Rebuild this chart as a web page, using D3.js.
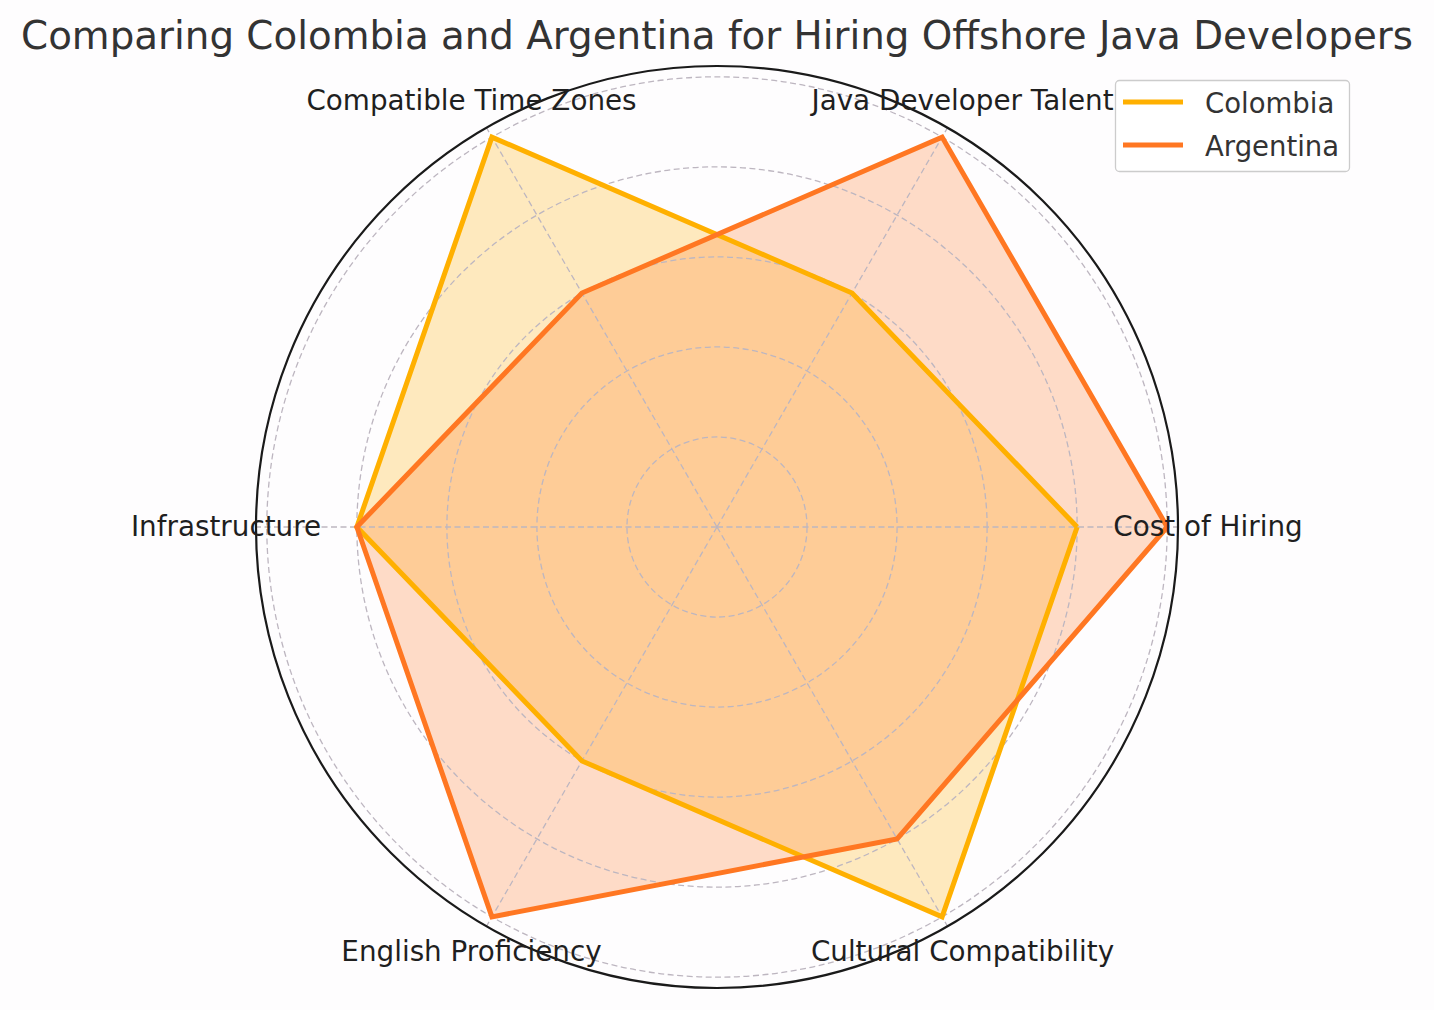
<!DOCTYPE html>
<html>
<head>
<meta charset="utf-8">
<script src="https://cdn.jsdelivr.net/npm/d3@7"></script>
<style>
html,body{margin:0;padding:0;background:#fefdfe;}
svg{display:block;}
text{font-family:"DejaVu Sans",sans-serif;}
</style>
</head>
<body>
<svg id="chart" width="1434" height="1010"></svg>
<script>
const categories = ["Cost of Hiring","Java Developer Talent","Compatible Time Zones","Infrastructure","English Proficiency","Cultural Compatibility"];
const seriesNames = ["Colombia","Argentina"];
const colombiaValues = [4,3,5,4,3,5];
const argentinaValues = [5,5,3,4,5,4];
const radialTicks = [1,2,3,4,5];
const seriesColors = ["#FFB000","#FF7722"];

const svg = d3.select("#chart");
const W = 1434, H = 1010;
const cx = 717, cy = 527;
const R = 461;
const r = d3.scaleLinear().domain([0, 5.12]).range([0, R]);
const angle = d3.scaleLinear().domain([0, categories.length]).range([0, 2*Math.PI]);
const px = (i, v) => cx + r(v) * Math.cos(angle(i));
const py = (i, v) => cy - r(v) * Math.sin(angle(i));

svg.append("rect").attr("width", W).attr("height", H).attr("fill", "#fefdfe");

const series = [
  {name: seriesNames[0], values: colombiaValues, color: seriesColors[0]},
  {name: seriesNames[1], values: argentinaValues, color: seriesColors[1]}
];

const line = d3.line().x(d => d[0]).y(d => d[1]);
const pts = s => { const p = s.values.map((v,i) => [px(i,v), py(i,v)]); p.push(p[0]); return p; };

const gFill = svg.append("g");
series.forEach(s => {
  gFill.append("path").attr("d", line(pts(s)) + "Z")
    .attr("fill", s.color).attr("fill-opacity", 0.25).attr("stroke", "none");
});

const gGrid = svg.append("g");
radialTicks.forEach(t => {
  gGrid.append("circle").attr("cx", cx).attr("cy", cy).attr("r", r(t))
    .attr("fill", "none").attr("stroke", "#bdb6c0").attr("stroke-width", 1.3)
    .attr("stroke-dasharray", "6,3.5");
});
categories.forEach((c, i) => {
  gGrid.append("line").attr("x1", cx).attr("y1", cy)
    .attr("x2", cx + R*Math.cos(angle(i))).attr("y2", cy - R*Math.sin(angle(i)))
    .attr("stroke", "#bdb6c0").attr("stroke-width", 1.3).attr("stroke-dasharray", "6,3.5");
});

const gLine = svg.append("g");
series.forEach(s => {
  gLine.append("path").attr("d", line(pts(s)))
    .attr("fill", "none").attr("stroke", s.color).attr("stroke-width", 5)
    .attr("stroke-linejoin", "miter");
});

svg.append("circle").attr("cx", cx).attr("cy", cy).attr("r", R)
  .attr("fill", "none").attr("stroke", "#1a1a1a").attr("stroke-width", 2.2);

const LR = 491;
categories.forEach((c, i) => {
  svg.append("text")
    .attr("x", cx + LR*Math.cos(angle(i)))
    .attr("y", cy - LR*Math.sin(angle(i)) + 8.5)
    .attr("text-anchor", "middle")
    .attr("font-size", 27.8).attr("fill", "#1f1f1f")
    .text(c);
});

svg.append("text").attr("x", cx).attr("y", 49).attr("text-anchor", "middle")
  .attr("font-size", 38.8).attr("fill", "#333333")
  .text("Comparing Colombia and Argentina for Hiring Offshore Java Developers");

const lg = svg.append("g");
lg.append("rect").attr("x", 1115.5).attr("y", 80.5).attr("width", 234).attr("height", 91)
  .attr("rx", 4).attr("fill", "#ffffff").attr("fill-opacity", 0.8)
  .attr("stroke", "#cccccc").attr("stroke-width", 1.3);
series.forEach((s, k) => {
  const y = 102 + k*43;
  lg.append("line").attr("x1", 1123).attr("x2", 1183).attr("y1", y).attr("y2", y)
    .attr("stroke", s.color).attr("stroke-width", 5);
  lg.append("text").attr("x", 1205).attr("y", y + 11).attr("font-size", 27.5)
    .attr("fill", "#333333").text(s.name);
});
</script>
</body>
</html>
